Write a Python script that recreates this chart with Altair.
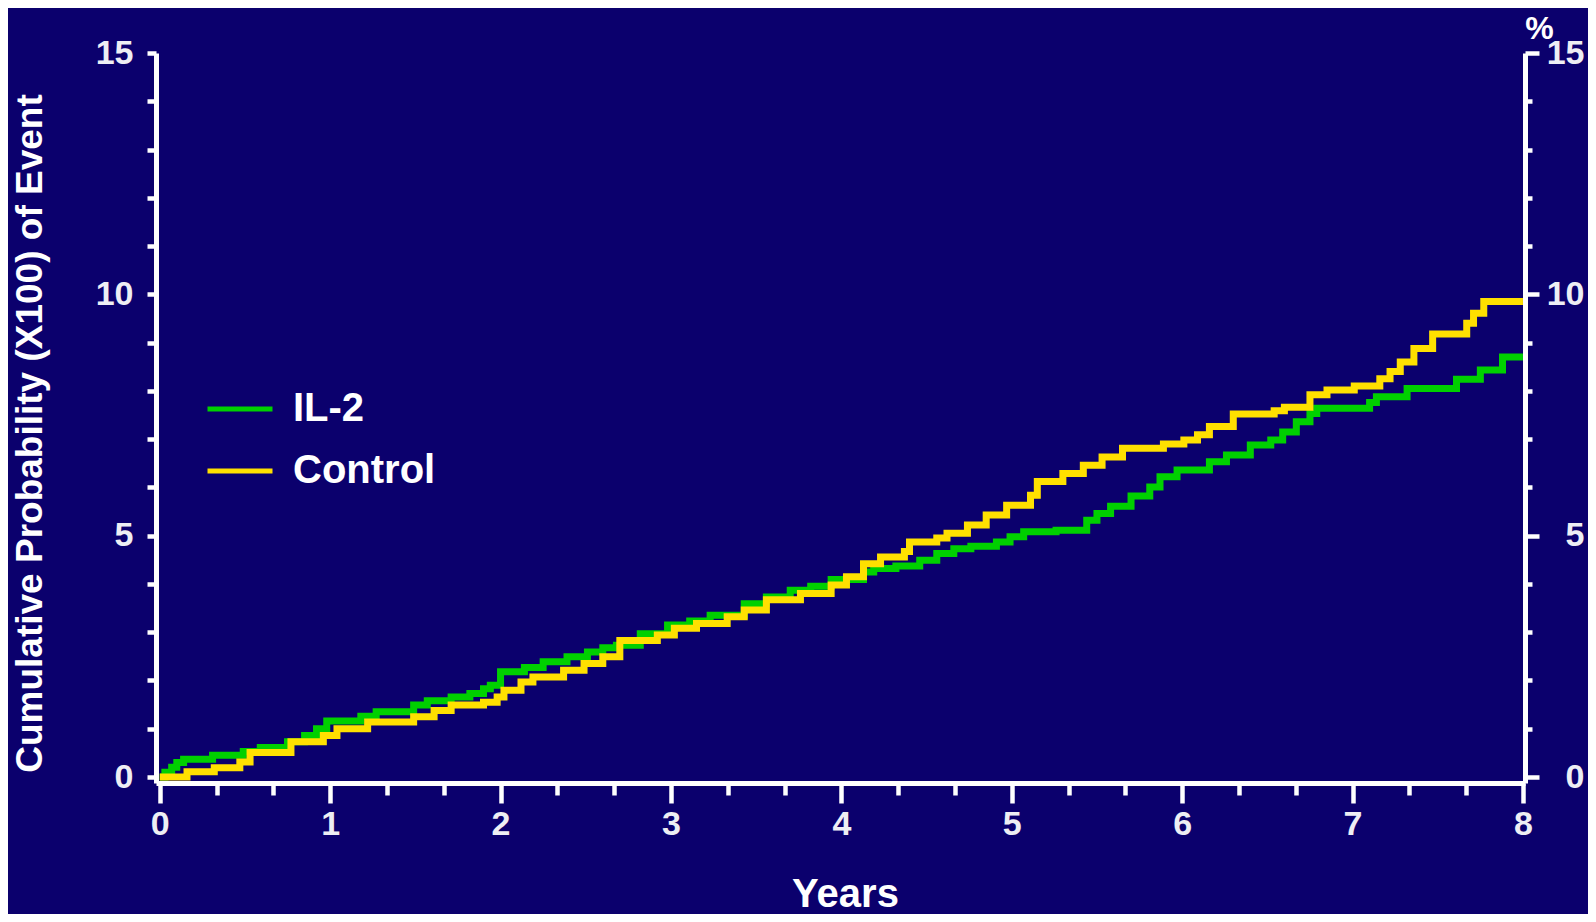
import altair as alt
import pandas as pd

# ---- data (step curves: time in years, cumulative %)
il2_t = [0, 0.03, 0.07, 0.10, 0.14, 0.31, 0.49, 0.59, 0.75, 0.85,
         0.92, 0.98, 1.18, 1.27, 1.49, 1.57, 1.71, 1.82, 1.90, 1.94,
         2.00, 2.14, 2.25, 2.39, 2.51, 2.60, 2.68, 2.82, 2.98, 3.11,
         3.23, 3.43, 3.56, 3.70, 3.82, 3.94, 4.13, 4.19, 4.32, 4.46,
         4.56, 4.66, 4.76, 4.91, 4.99, 5.07, 5.26, 5.44, 5.50, 5.58,
         5.70, 5.81, 5.87, 5.97, 6.16, 6.26, 6.40, 6.52, 6.59, 6.67,
         6.75, 6.79, 7.10, 7.14, 7.32, 7.61, 7.75, 7.88, 8.0]
il2_v = [0, 0.10, 0.20, 0.30, 0.37, 0.45, 0.53, 0.61, 0.73, 0.86,
         1.00, 1.16, 1.26, 1.35, 1.49, 1.58, 1.66, 1.73, 1.83, 1.90,
         2.18, 2.27, 2.39, 2.49, 2.59, 2.68, 2.73, 2.97, 3.15, 3.23,
         3.35, 3.59, 3.73, 3.87, 3.95, 4.09, 4.25, 4.32, 4.37, 4.49,
         4.63, 4.73, 4.78, 4.87, 4.98, 5.08, 5.11, 5.32, 5.46, 5.61,
         5.82, 6.01, 6.22, 6.36, 6.53, 6.67, 6.88, 6.98, 7.15, 7.36,
         7.53, 7.64, 7.76, 7.88, 8.05, 8.24, 8.43, 8.70, 8.70]

ctl_t = [0, 0.16, 0.32, 0.47, 0.53, 0.77, 0.96, 1.04, 1.22, 1.49,
         1.61, 1.71, 1.90, 1.98, 2.02, 2.12, 2.19, 2.37, 2.49, 2.60,
         2.70, 2.92, 3.02, 3.15, 3.33, 3.43, 3.56, 3.76, 3.94, 4.03,
         4.13, 4.23, 4.37, 4.40, 4.56, 4.62, 4.74, 4.85, 4.97, 5.11,
         5.15, 5.30, 5.42, 5.53, 5.65, 5.89, 6.01, 6.09, 6.16, 6.30,
         6.54, 6.60, 6.75, 6.85, 7.01, 7.16, 7.22, 7.28, 7.36, 7.47,
         7.67, 7.71, 7.77, 8.0]
ctl_v = [0, 0.11, 0.19, 0.31, 0.51, 0.73, 0.86, 1.00, 1.14, 1.25,
         1.38, 1.49, 1.55, 1.66, 1.80, 1.97, 2.07, 2.21, 2.35, 2.49,
         2.83, 2.94, 3.08, 3.18, 3.32, 3.46, 3.67, 3.80, 3.98, 4.15,
         4.42, 4.56, 4.67, 4.87, 4.95, 5.05, 5.22, 5.43, 5.63, 5.84,
         6.12, 6.29, 6.46, 6.63, 6.81, 6.90, 6.98, 7.09, 7.26, 7.52,
         7.59, 7.66, 7.92, 8.02, 8.10, 8.25, 8.40, 8.60, 8.88, 9.18,
         9.40, 9.61, 9.85, 9.85]

groups = ["IL-2", "Control"]
colors = ["#00d000", "#ffe000"]

x_ticks = [i / 3 for i in range(25)]
y_ticks = list(range(16))

rows = []
for t, v in zip(il2_t, il2_v):
    rows.append({"Years": t, "Prob": v, "Group": "IL-2"})
for t, v in zip(ctl_t, ctl_v):
    rows.append({"Years": t, "Prob": v, "Group": "Control"})
df = pd.DataFrame(rows)

FONT = "Liberation Sans"
BG = "#0b006d"
LBL = "#eeeef4"

x_enc = alt.X(
    "Years:Q",
    scale=alt.Scale(domain=[-0.022, 8.012], nice=False, zero=False),
    axis=alt.Axis(
        title="Years",
        values=x_ticks,
        labelExpr="abs(datum.value - round(datum.value)) < 0.001 ? '' + round(datum.value) : ''",
        tickSize={"condition": {"test": "abs(datum.value - round(datum.value)) < 0.001", "value": 20}, "value": 12},
        tickWidth=4.5,
        domainWidth=5,
        labelPadding=4,
        labelFontSize=34,
        titleFontSize=40,
        titleX=689,
        titleY=123,
        titleAlign="center",
        titleBaseline="alphabetic",
    ),
)

y_scale = alt.Scale(domain=[-0.124, 15], nice=False, zero=False)

lines = alt.Chart(df).mark_line(interpolate="step-after", strokeWidth=7).encode(
    x=x_enc,
    y=alt.Y(
        "Prob:Q",
        scale=y_scale,
        axis=alt.Axis(
            title="Cumulative Probability (X100) of Event",
            values=y_ticks,
            labelExpr="datum.value % 5 === 0 ? '' + datum.value : ''",
            tickSize=9,
            tickWidth=4.5,
            domainWidth=5,
            labelPadding=14,
            labelFontSize=34,
            titleFontSize=37,
            titleAngle=270,
            titleX=-126,
            titleY=380,
            titleAlign="center",
            titleBaseline="middle",
        ),
    ),
    color=alt.Color(
        "Group:N",
        scale=alt.Scale(domain=groups, range=colors),
        legend=alt.Legend(
            orient="none",
            legendX=49,
            legendY=321,
            title=None,
            symbolType="stroke",
            symbolSize=4225,
            symbolStrokeWidth=5,
            labelFontSize=40,
            labelFont=FONT,
            labelFontWeight="bold",
            labelColor="#ffffff",
            labelOffset=18,
            rowPadding=7,
            padding=0,
        ),
    ),
    detail="Group:N",
)

right = alt.Chart(df).mark_line(opacity=0).encode(
    x=alt.X("Years:Q"),
    y=alt.Y(
        "Prob:Q",
        scale=y_scale,
        axis=alt.Axis(
            orient="right",
            title="%",
            values=y_ticks,
            labelExpr="datum.value % 5 === 0 ? '' + datum.value : ''",
            tickSize={"condition": {"test": "datum.value % 5 === 0", "value": 14}, "value": 7},
            tickWidth=4.5,
            domainWidth=5,
            labelAlign="right",
            labelPadding=45,
            labelFontSize=34,
            titleFontSize=32,
            titleAngle=0,
            titleX=14,
            titleY=-25,
            titleAlign="center",
            titleBaseline="middle",
        ),
    ),
)

chart = alt.layer(lines, right).resolve_scale(y="independent").properties(
    width=1369,
    height=730,
    padding={"left": 148, "top": 45, "right": 63, "bottom": 131},
    autosize=alt.AutoSizeParams(type="none"),
    background=BG,
).configure_view(stroke=None).configure_axis(
    grid=False,
    domainColor="#ffffff",
    tickColor="#ffffff",
    labelColor=LBL,
    titleColor="#ffffff",
    labelFont=FONT,
    titleFont=FONT,
    labelFontWeight="bold",
    titleFontWeight="bold",
)

chart.save("out.html", embed_options={"renderer": "svg", "actions": False})
